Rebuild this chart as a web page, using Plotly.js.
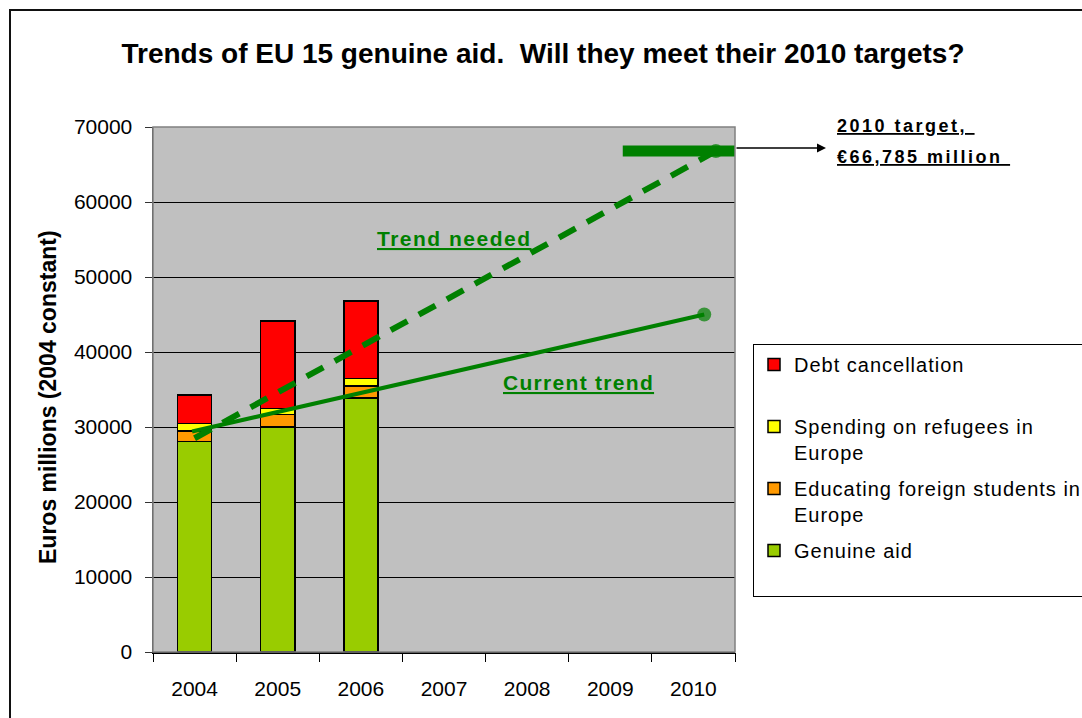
<!DOCTYPE html>
<html><head><meta charset="utf-8">
<script src="https://cdn.plot.ly/plotly-3.0.1.min.js"></script>
<style>
html,body{margin:0;padding:0;background:#fff;}
#chart{width:1082px;height:718px;}
.legendtext{letter-spacing:1px;}
</style></head><body><div id="chart"></div>
<script>
const years = [2004, 2005, 2006, 2007, 2008, 2009, 2010];
const yearLabels = ['2004', '2005', '2006', '2007', '2008', '2009', '2010'];
const barYears = [2004, 2005, 2006];
const genuineAid = [28100, 30000, 33900];
const foreignStudents = [1400, 1700, 1600];
const refugees = [1000, 750, 950];
const debtCancellation = [3800, 11700, 10350];
const currentTrendX = [2003.97, 2010.13];
const currentTrendY = [29400, 45000];
const neededTrendX = [2004.0, 2010.27];
const neededTrendY = [28500, 66785];
const targetX = [2009.15, 2010.5];
const targetY = [66785, 66785];
const yTicks = [0, 10000, 20000, 30000, 40000, 50000, 60000, 70000];

const FONT = 'Liberation Sans, Arial, sans-serif';
const GREEN = '#008000';
const boundaries = years.map(y => y - 0.5).concat([years[years.length - 1] + 0.5]);
const xRange = [boundaries[0], boundaries[boundaries.length - 1]];

function barTrace(name, vals, color, grp, rank) {
  return {type: 'bar', x: barYears, y: vals, name: name, legendgroup: grp, legendrank: rank,
    width: 0.41, marker: {color: color, line: {color: '#000', width: 1.5}},
    hoverinfo: 'skip'};
}

const traces = [
  barTrace('Genuine aid<br> ', genuineAid, '#99CC00', 'g1', 4),
  barTrace('Educating foreign students in<br>Europe', foreignStudents, '#FF9900', 'g2', 3),
  barTrace('Spending on refugees in<br>Europe', refugees, '#FFFF00', 'g3', 2),
  barTrace('Debt cancellation<br> ', debtCancellation, '#FF0000', 'g4', 1),
  {type: 'scatter', mode: 'lines', x: targetX, y: targetY, xaxis: 'x2', showlegend: false,
    line: {color: GREEN, width: 11}, hoverinfo: 'skip'},
  {type: 'scatter', mode: 'lines+markers', x: neededTrendX, y: neededTrendY, xaxis: 'x2', showlegend: false,
    line: {color: GREEN, width: 6, dash: '19px,13px'},
    marker: {size: [0, 14], color: GREEN, line: {width: 0}}, hoverinfo: 'skip'},
  {type: 'scatter', mode: 'lines+markers', x: currentTrendX, y: currentTrendY, xaxis: 'x2', showlegend: false,
    line: {color: GREEN, width: 4},
    marker: {size: [0, 14], color: GREEN, line: {width: 0}}, hoverinfo: 'skip'}
];

const layout = {
  width: 1082, height: 718,
  margin: {l: 153, r: 347, t: 127, b: 66, autoexpand: false},
  paper_bgcolor: '#fff', plot_bgcolor: '#C0C0C0',
  barmode: 'stack',
  font: {family: FONT, color: '#000'},
  showlegend: true,
  title: {text: 'Trends of EU 15 genuine aid.\u00a0 Will they meet their 2010 targets?',
    font: {family: FONT, size: 28, color: '#000', weight: 'bold'},
    x: 543 / 1082, xanchor: 'center', xref: 'container',
    y: 1 - 53 / 718, yanchor: 'middle', yref: 'container'},
  xaxis: {type: 'linear', range: xRange, tickvals: years, ticktext: yearLabels,
    ticks: '', showgrid: false, zeroline: false, showline: true, linecolor: '#000', linewidth: 1.5,
    tickfont: {family: FONT, size: 21, color: '#000'}, ticklabelstandoff: 17, fixedrange: true},
  xaxis2: {type: 'linear', range: xRange, overlaying: 'x', anchor: 'y', side: 'bottom',
    tickvals: boundaries, ticks: 'outside', ticklen: 9, tickwidth: 1, tickcolor: '#000',
    showticklabels: false, showgrid: false, zeroline: false, showline: false, fixedrange: true},
  yaxis: {range: [0, 70000], tickvals: yTicks, tickformat: 'd', ticks: 'outside', ticklen: 7,
    tickcolor: '#333', showgrid: true, gridcolor: '#000', gridwidth: 1, zeroline: false,
    showline: true, linecolor: '#404040', linewidth: 1.5,
    tickfont: {family: FONT, size: 21, color: '#000'}, ticklabelstandoff: 8, fixedrange: true},
  legend: {x: (753 - 153) / 582, y: (652 - 344) / 525, xanchor: 'left', yanchor: 'top',
    bgcolor: '#fff', bordercolor: '#000', borderwidth: 1,
    traceorder: 'grouped', tracegroupgap: 7, valign: 'top',
    font: {family: FONT, size: 20, color: '#000'}},
  shapes: [
    {type: 'rect', xref: 'paper', yref: 'paper', x0: 0, x1: 1, y0: 0, y1: 1,
      line: {color: '#808080', width: 1.5}, layer: 'above'},
    {type: 'rect', xref: 'paper', yref: 'paper', x0: (10 - 153) / 582, x1: (1100 - 153) / 582,
      y0: (652 - 740) / 525, y1: (652 - 10) / 525, line: {color: '#111', width: 2}, layer: 'above'}
  ],
  annotations: [
    {text: '<b>Euros millions (2004 constant)</b>', xref: 'paper', yref: 'paper',
      x: (48 - 153) / 582, y: (652 - 397) / 525, textangle: -90, showarrow: false,
      xanchor: 'center', yanchor: 'middle', font: {family: FONT, size: 23, color: '#000'}},
    {text: '<span style="letter-spacing:1.5px;text-decoration:underline;text-decoration-thickness:2px">Trend needed</span>',
      xref: 'paper', yref: 'paper', x: (454 - 153) / 582, y: (652 - 238) / 525, showarrow: false,
      xanchor: 'center', yanchor: 'middle', font: {family: FONT, size: 21, color: GREEN, weight: 'bold'}},
    {text: '<span style="letter-spacing:1.3px;text-decoration:underline;text-decoration-thickness:2px">Current trend</span>',
      xref: 'paper', yref: 'paper', x: (578 - 153) / 582, y: (652 - 382) / 525, showarrow: false,
      xanchor: 'center', yanchor: 'middle', font: {family: FONT, size: 21, color: GREEN, weight: 'bold'}},
    {text: '<span style="letter-spacing:2.5px;text-decoration:underline;text-decoration-thickness:2px">2010 target,\u00a0</span>',
      xref: 'paper', yref: 'paper', x: (835 - 153) / 582, y: (652 - 126) / 525, showarrow: false,
      xanchor: 'left', yanchor: 'middle', font: {family: FONT, size: 18, color: '#000', weight: 'bold'}},
    {text: '<span style="letter-spacing:2.5px;text-decoration:underline;text-decoration-thickness:2px">€66,785 million\u00a0</span>',
      xref: 'paper', yref: 'paper', x: (835 - 153) / 582, y: (652 - 157) / 525, showarrow: false,
      xanchor: 'left', yanchor: 'middle', font: {family: FONT, size: 18, color: '#000', weight: 'bold'}},
    {text: '', xref: 'paper', yref: 'paper', x: (826 - 153) / 582, y: (652 - 148) / 525,
      showarrow: true, axref: 'pixel', ayref: 'pixel', ax: -91, ay: 0,
      arrowhead: 2, arrowsize: 1.2, arrowwidth: 1.5, arrowcolor: '#000'}
  ]
};

Plotly.newPlot('chart', traces, layout, {displayModeBar: false, staticPlot: true});
</script></body></html>
